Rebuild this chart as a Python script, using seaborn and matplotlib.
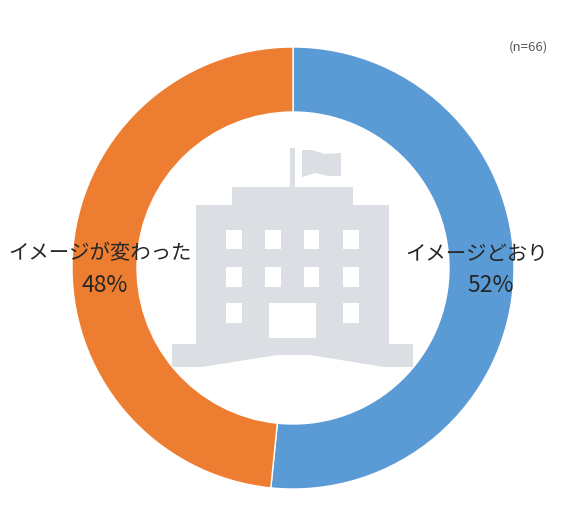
import matplotlib
matplotlib.use("Agg")
import matplotlib.pyplot as plt
from matplotlib.patches import Rectangle, Polygon
import seaborn as sns

categories = ["イメージどおり", "イメージが変わった"]
values = [51.6, 48.4]
shown_pct = ["52%", "48%"]
colors = ["#5B9BD5", "#ED7D31"]
note = "(n=66)"

W, H = 569, 525
sns.set_theme(style="white")
plt.rcParams["font.family"] = ["Noto Sans CJK JP", "DejaVu Sans"]

fig = plt.figure(figsize=(W / 100, H / 100), dpi=100, facecolor="white")
ax = fig.add_axes([0, 0, 1, 1])

def Y(py):
    return H - py

ax.pie(values, colors=colors, startangle=90, counterclock=False,
       center=(293, Y(268)), radius=221, frame=True,
       wedgeprops=dict(width=65, edgecolor="white", linewidth=1))
ax.set_xlim(0, W)
ax.set_ylim(0, H)
ax.set_aspect("equal")
ax.axis("off")

# Decorative school-building icon
ICON = "#DBDEE2"
def rect(x0, y0, x1, y1, c=ICON):
    ax.add_patch(Rectangle((x0, Y(y1)), x1 - x0, y1 - y0, fc=c, ec="none", zorder=3))

rect(290, 148, 295, 188)
ax.add_patch(Polygon([(x, Y(y)) for x, y in [(302, 150), (312, 150), (325, 154), (341, 153),
                                             (341, 176), (328, 176), (315, 173), (302, 177)]],
                     fc=ICON, ec="none", zorder=3))
rect(232, 187, 353, 206)
rect(196, 205, 389, 345)
ax.add_patch(Polygon([(x, Y(y)) for x, y in [(172, 344), (413, 344), (413, 367), (384, 367),
                                             (310, 355), (277, 355), (202, 367), (172, 367)]],
                     fc=ICON, ec="none", zorder=3))
for wx0, wx1 in [(226, 242), (265, 281), (304, 319), (343, 359)]:
    for wy0, wy1 in [(230, 249), (267, 287)]:
        rect(wx0, wy0, wx1, wy1, "white")
for wx0, wx1 in [(226, 242), (343, 359)]:
    rect(wx0, 303, wx1, 323, "white")
rect(269, 303, 316, 338, "white")

TEXT = "#262626"
ax.text(477, Y(254), categories[0], ha="center", va="center", fontsize=14.7, color=TEXT, zorder=5)
ax.text(491, Y(286), shown_pct[0], ha="center", va="center", fontsize=16.5, color=TEXT, zorder=5)
ax.text(100, Y(254), categories[1], ha="center", va="center", fontsize=14.7, color=TEXT, zorder=5)
ax.text(105, Y(286), shown_pct[1], ha="center", va="center", fontsize=16.5, color=TEXT, zorder=5)
ax.text(548, Y(47), note, ha="right", va="center", fontsize=9.5, color="#595959", zorder=5)

fig.savefig("out.png", dpi=100, facecolor="white")
